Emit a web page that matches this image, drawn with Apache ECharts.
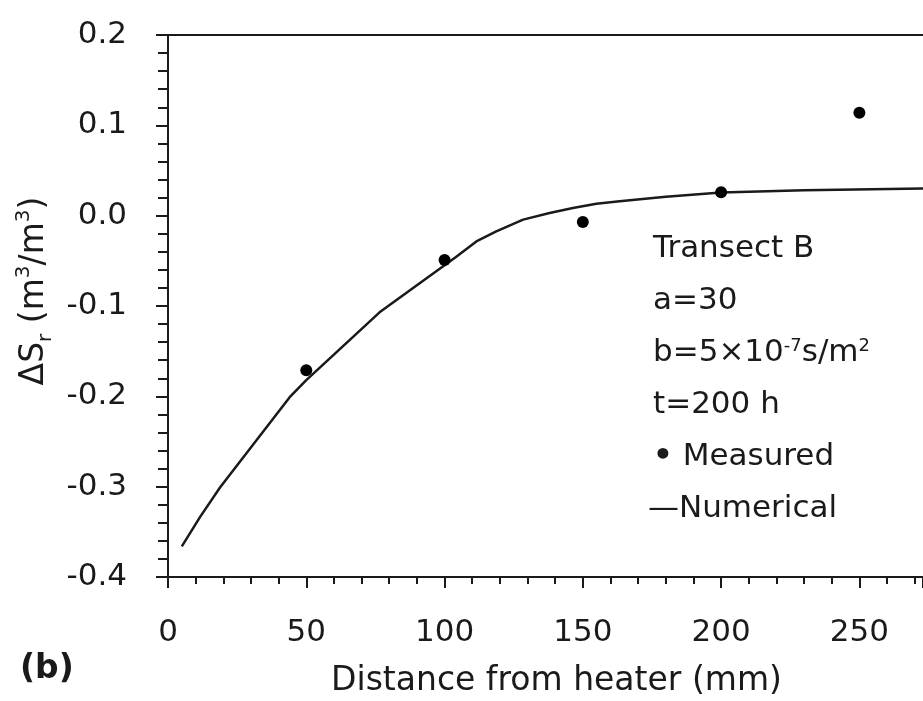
<!DOCTYPE html>
<html>
<head>
<meta charset="utf-8">
<script src="https://cdn.jsdelivr.net/npm/echarts@6/dist/echarts.min.js"></script>
<style>
  html, body { margin: 0; padding: 0; background: #fff; }
  #main { width: 923px; height: 701px; }
</style>
</head>
<body>
<div id="main"></div>
<script>
// measured points (mm, m3/m3)
var measuredX = [50, 100, 150, 200, 250];
var measuredY = [-0.171, -0.049, -0.007, 0.026, 0.114];

// numerical curve
var numericalX = [5, 11.5, 18.8, 44, 50, 76.5, 104, 111.5, 118.7, 128.4, 138, 146.4, 154.9, 163.3, 180, 200, 230, 273];
var numericalY = [-0.366, -0.334, -0.301, -0.201, -0.182, -0.107, -0.046, -0.0285, -0.0174, -0.0044, 0.003, 0.0085, 0.0133, 0.0159, 0.021, 0.0256, 0.028, 0.030];

var noteLines = [
  'Transect B',
  'a=30',
  'b=5×10{sup|-7}s/m{sup|2}',
  't=200 h',
  '{dot|•} Measured',
  '—Numerical'
];

var font = 'DejaVu Sans';
var ink = '#1a1a1a';

function pairs(xs, ys) {
  return xs.map(function (x, i) { return [x, ys[i]]; });
}

var myChart = echarts.init(document.getElementById('main'));

myChart.setOption({
  backgroundColor: '#fff',
  animation: false,
  grid: { left: 168, top: 35, right: 0, bottom: 124, outerBoundsMode: 'none', containLabel: false },
  xAxis: [{
    type: 'value',
    min: 0,
    max: 273,
    interval: 50,
    name: 'Distance from heater (mm)',
    nameLocation: 'middle',
    nameGap: 88,
    nameTextStyle: { fontFamily: font, fontSize: 33, color: ink, padding: [0, 0, 0, 22] },
    axisLine: { onZero: false, lineStyle: { color: ink, width: 2 } },
    axisTick: { length: 11, lineStyle: { color: ink, width: 2 } },
    minorTick: { show: true, splitNumber: 5, length: 7, lineStyle: { color: ink, width: 2 } },
    axisLabel: {
      margin: 40, fontFamily: font, fontSize: 31, color: ink,
      showMaxLabel: false,
      formatter: function (v) { return v % 50 === 0 ? String(v) : ''; }
    },
    splitLine: { show: false }
  }, {
    type: 'value',
    position: 'top',
    min: 0,
    max: 273,
    axisLine: { show: true, onZero: false, lineStyle: { color: ink, width: 2 } },
    axisTick: { show: false },
    axisLabel: { show: false },
    splitLine: { show: false }
  }],
  yAxis: {
    type: 'value',
    min: -0.4,
    max: 0.2,
    interval: 0.1,
    name: '{t|ΔS}{sub|r}{t| (m}{sup|3}{t|/m}{sup|3}{t|)}',
    nameLocation: 'middle',
    nameRotate: 90,
    nameGap: 110,
    nameTextStyle: {
      color: ink,
      padding: [0, 0, 0, 30],
      rich: {
        t: { fontFamily: font, fontSize: 33, color: ink, lineHeight: 42 },
        sup: { fontFamily: font, fontSize: 20, color: ink, verticalAlign: 'top', lineHeight: 20 },
        sub: { fontFamily: font, fontSize: 20, color: ink, verticalAlign: 'bottom', lineHeight: 20 }
      }
    },
    axisLine: { onZero: false, lineStyle: { color: ink, width: 2 } },
    axisTick: { length: 12, lineStyle: { color: ink, width: 2 } },
    minorTick: { show: true, splitNumber: 5, length: 10, lineStyle: { color: ink, width: 2 } },
    axisLabel: {
      margin: 41, fontFamily: font, fontSize: 31, color: ink,
      formatter: function (v) { return v.toFixed(1); }
    },
    splitLine: { show: false }
  },
  series: [{
    name: 'Numerical',
    type: 'line',
    data: pairs(numericalX, numericalY),
    showSymbol: false,
    symbol: 'none',
    lineStyle: { color: ink, width: 2.5 },
    z: 2
  }, {
    name: 'Measured',
    type: 'scatter',
    data: pairs(measuredX, measuredY),
    symbol: 'circle',
    symbolSize: 12,
    itemStyle: { color: '#000', opacity: 1 },
    z: 3
  }],
  graphic: noteLines.map(function (line, i) {
    return {
      type: 'text',
      left: i === 5 ? 648 : 653,
      top: 233 + i * 52,
      style: {
        text: line,
        font: '31px "DejaVu Sans"',
        fill: ink,
        rich: {
          sup: { fontFamily: font, fontSize: 18, color: ink, verticalAlign: 'top', lineHeight: 18 },
          dot: { fontFamily: font, fontSize: 31, fontWeight: 'bold', color: ink }
        }
      }
    };
  }).concat([{
    type: 'text',
    left: 20,
    top: 653,
    style: { text: '(b)', font: 'bold 33px "DejaVu Sans"', fill: ink }
  }])
});
</script>
</body>
</html>
